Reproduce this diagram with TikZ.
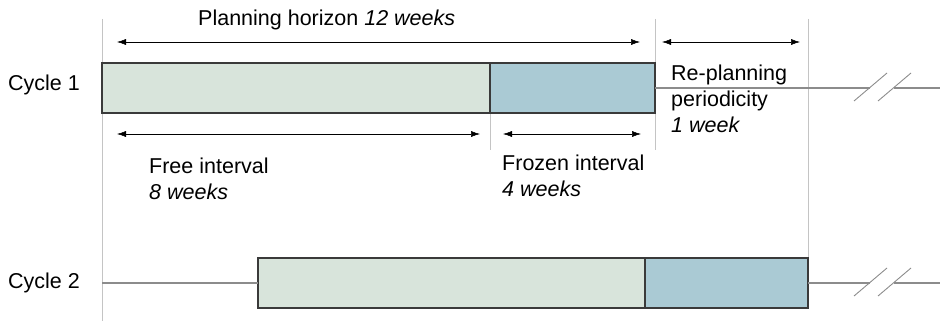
\documentclass[tikz,border=0pt]{standalone}
\usepackage{fontspec}
\setmainfont{Liberation Sans}
\usetikzlibrary{arrows.meta}
\definecolor{freefill}{HTML}{D8E4DB}
\definecolor{frozenfill}{HTML}{AACAD4}
\definecolor{barline}{HTML}{3A3A3A}
\definecolor{axisline}{HTML}{8C8C8C}
\definecolor{guideline}{HTML}{C4C4C4}
\tikzset{
  x=1pt, y=-1pt,
  bar/.style={draw=barline, line width=1.3pt, inner sep=0pt, outer sep=0pt,
    minimum height=50pt, anchor=north west},
  freebar/.style={bar, fill=freefill},
  frozenbar/.style={bar, fill=frozenfill},
  timeline/.style={draw=axisline, line width=1.1pt},
  guide/.style={draw=guideline, line width=1pt},
  span/.style={draw=black, line width=0.5pt,
    {Latex[length=9pt,width=6pt]}-{Latex[length=9pt,width=6pt]}},
  breakmark/.style={draw=axisline, line width=0.9pt},
  label/.style={font=\fontsize{21.5}{26}\selectfont, inner sep=0pt, align=left},
}
\begin{document}
\begin{tikzpicture}
\useasboundingbox (0,0) rectangle (940,321);

% guide lines
\draw[guide] (102,19) -- (102,321);
\draw[guide] (655,19) -- (655,150);
\draw[guide] (808,19) -- (808,258);
\draw[guide] (490,113) -- (490,150);

% cycle 1
\node[freebar, minimum width=388pt] (free1) at (102,63) {};
\node[frozenbar, minimum width=165pt] (frozen1) at (490,63) {};
\coordinate (b1a) at (870,88);
\coordinate (b1b) at (894,88);
\coordinate (end1) at (940,88);
\draw[timeline] (frozen1.east) -- (b1a);
\draw[timeline] (b1b) -- (end1);
\draw[breakmark] (854,101) -- (887,73);
\draw[breakmark] (878,101) -- (911,73);

% cycle 2
\coordinate (start2) at (102,283);
\node[freebar, minimum width=387pt] (free2) at (258,258) {};
\node[frozenbar, minimum width=163pt] (frozen2) at (645,258) {};
\coordinate (b2a) at (870,283);
\coordinate (b2b) at (894,283);
\coordinate (end2) at (940,283);
\draw[timeline] (start2) -- (free2.west);
\draw[timeline] (frozen2.east) -- (b2a);
\draw[timeline] (b2b) -- (end2);
\draw[breakmark] (854,296) -- (887,268);
\draw[breakmark] (878,296) -- (911,268);

% spans
\coordinate (ph1) at (117,42);
\coordinate (ph2) at (640,42);
\coordinate (rp1) at (662,42);
\coordinate (rp2) at (800,42);
\coordinate (fi1) at (117,134);
\coordinate (fi2) at (480,134);
\coordinate (zi1) at (503,134);
\coordinate (zi2) at (641,134);
\draw[span] (ph1) -- (ph2);
\draw[span] (rp1) -- (rp2);
\draw[span] (fi1) -- (fi2);
\draw[span] (zi1) -- (zi2);

% labels
\node[label, anchor=west] (lblph) at (198,20) {Planning horizon \textit{12 weeks}};
\node[label, anchor=west] (lblc1) at (8,85) {Cycle 1};
\node[label, anchor=west] (lblc2) at (8,283) {Cycle 2};
\node[label, anchor=north west] (lblfree) at (149,158) {Free interval\\\textit{8 weeks}};
\node[label, anchor=north west] (lblfrozen) at (502,155) {Frozen interval\\\textit{4 weeks}};
\node[label, anchor=north west] (lblrp) at (671,65) {Re-planning\\periodicity\\\textit{1 week}};
\end{tikzpicture}
\end{document}
